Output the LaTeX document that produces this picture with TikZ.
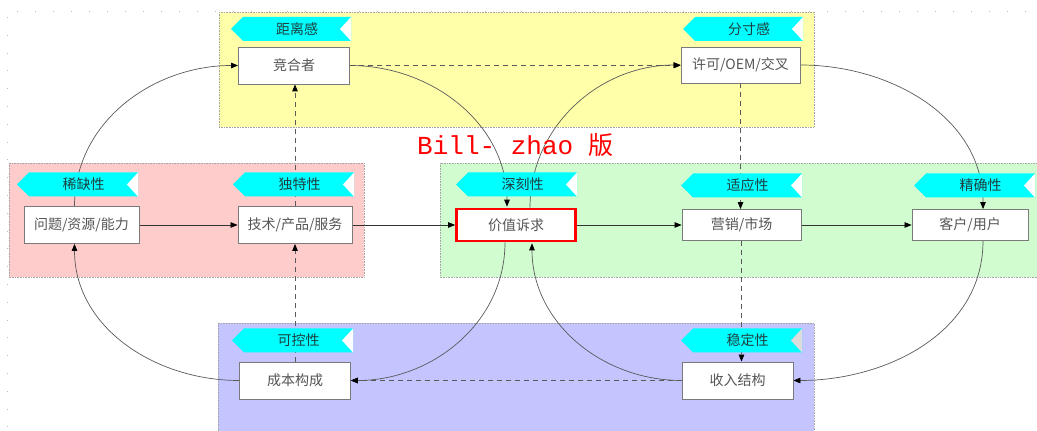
\documentclass[tikz,border=0pt]{standalone}
\usepackage{fontspec}
\setmainfont{Noto Sans CJK SC}
\newfontfamily\redmono{Liberation Mono}
\newfontfamily\cjkfont{Noto Sans CJK SC}
\usetikzlibrary{arrows.meta}
\definecolor{yelbg}{HTML}{FFFFAA}
\definecolor{pinkbg}{HTML}{FFCCCC}
\definecolor{greenbg}{HTML}{D0FCD0}
\definecolor{bluebg}{HTML}{C4C4FF}
\definecolor{tagcyan}{HTML}{00FFFF}
\definecolor{boxgray}{HTML}{7A7A7A}
\definecolor{txtgray}{HTML}{555555}
\definecolor{tagtxt}{HTML}{1F3F3F}
\definecolor{linegray}{HTML}{5A5A5A}
\definecolor{notchgray}{HTML}{DCDCDC}
\newcommand\mytag[6][white]{%
  \fill[tagcyan] (#3,#5) -- (#3+12,#5+12) -- (#4,#5+12) -- (#4,#5-12) -- (#3+12,#5-12) -- cycle;
  \fill[#1] (#4,#5+12) -- (#4-11,#5) -- (#4,#5-12) -- cycle;
  \node[tagtext] (#2) at ({(#3+12+#4)/2},#5) {#6};
}
\begin{document}
\begin{tikzpicture}[x=1pt,y=1pt,
  box/.style={draw=boxgray, fill=white, line width=0.8pt, text=txtgray,
    font=\fontsize{14}{15}\selectfont, minimum height=37pt, inner sep=0pt},
  tagtext/.style={text=tagtxt, font=\fontsize{14}{15}\selectfont, inner sep=0pt},
  region/.style={draw=gray!70, densely dotted, line width=0.6pt},
  tip/.style={-{Triangle[length=7pt,width=5.5pt,color=black]}},
  arr/.style={tip, draw=black!80, line width=0.7pt},
  curve/.style={tip, draw=linegray, line width=0.7pt},
  dasharr/.style={tip, draw=linegray, line width=0.8pt, dash pattern=on 5pt off 4pt}]
\useasboundingbox (0,0) rectangle (1037,431);
\fill[white] (0,0) rectangle (1037,431);
% ruler marks
\draw[gray!55, line width=0.6pt, dash pattern=on 1pt off 17pt] (17,420) -- (1037,420);
\draw[gray!55, line width=0.6pt, dash pattern=on 1pt off 16.8pt] (7,414) -- (7,0);
% regions
\path[region, fill=yelbg] (219,419) rectangle (814,304);
\path[region, fill=pinkbg] (9,268) rectangle (364,154);
\path[region, fill=greenbg] (440,268) rectangle (1045,154);
\path[region, fill=bluebg] (218,108) rectangle (814,-5);
% boxes
\node[box, minimum width=111pt] (comp) at (294,365.5) {竞合者};
\node[box, minimum width=119pt, minimum height=36pt] (lic) at (740.5,366) {许可/OEM/交叉};
\node[box, minimum width=115pt] (prob) at (81.5,206) {问题/资源/能力};
\node[box, minimum width=114pt] (tech) at (295,206) {技术/产品/服务};
\node[box, draw=red, line width=2.6pt, minimum width=119pt, minimum height=32pt] (value) at (516,206) {价值诉求};
\node[box, minimum width=119pt, minimum height=31pt] (market) at (741.5,206) {营销/市场};
\node[box, minimum width=116pt, minimum height=31pt] (client) at (970,206) {客户/用户};
\node[box, minimum width=111pt] (cost) at (295,50.5) {成本构成};
\node[box, minimum width=111pt] (inc) at (737.5,50.5) {收入结构};
% straight connectors
\draw[arr] (prob) -- (tech);
\draw[arr] (tech) -- (value);
\draw[arr] (value) -- (market);
\draw[arr] (market) -- (client);
% dashed connectors
\draw[dasharr] (comp.east) -- (comp.east -| lic.west);
\draw[dasharr] (cost.north) -- (cost.north |- tech.south);
\draw[dasharr] (tech.north) -- (tech.north |- comp.south);
\draw[dasharr] (lic.south) -- (lic.south |- market.north);
\draw[dasharr] (market.south) -- (market.south |- inc.north);
\draw[dasharr] (inc.west) -- (inc.west -| cost.east);
% curved connectors
\draw[curve] (comp.east) to[out=0,in=90] ([xshift=-9pt,yshift=1pt]value.north);
\draw[curve] ([xshift=14pt]value.north) to[out=90,in=180] (lic.west);
\draw[curve] (lic.east) to[out=0,in=90] ([xshift=13pt]client.north);
\draw[curve] ([xshift=13pt]client.south) to[out=-90,in=0] (inc.east);
\draw[curve] (inc.west) to[out=180,in=-90] ([xshift=16pt,yshift=-1pt]value.south);
\draw[curve] ([xshift=-11pt]value.south) to[out=-90,in=0] (cost.east);
\draw[curve] (cost.west) to[out=180,in=-90] ([xshift=-7pt]prob.south);
\draw[curve] ([xshift=-7pt]prob.north) to[out=90,in=180] (comp.west);
% redraw boxes on top of line ends
\node[box, minimum width=111pt] at (comp) {竞合者};
\node[box, minimum width=119pt, minimum height=36pt] at (lic) {许可/OEM/交叉};
\node[box, minimum width=115pt] at (prob) {问题/资源/能力};
\node[box, minimum width=114pt] at (tech) {技术/产品/服务};
\node[box, draw=red, line width=2.6pt, minimum width=119pt, minimum height=32pt] at (value) {价值诉求};
\node[box, minimum width=119pt, minimum height=31pt] at (market) {营销/市场};
\node[box, minimum width=116pt, minimum height=31pt] at (client) {客户/用户};
\node[box, minimum width=111pt] at (cost) {成本构成};
\node[box, minimum width=111pt] at (inc) {收入结构};
% tags
\mytag{t1}{231}{351}{402}{距离感}
\mytag{t2}{683}{803}{402}{分寸感}
\mytag{t3}{17}{138}{246.5}{稀缺性}
\mytag{t4}{233}{354}{246.5}{独特性}
\mytag{t5}{456}{577}{246.5}{深刻性}
\mytag{t6}{681}{802}{245.5}{适应性}
\mytag{t7}{914}{1035}{245.5}{精确性}
\mytag{t8}{232}{353}{90.5}{可控性}
\mytag[notchgray]{t9}{681}{802}{90.5}{稳定性}
% watermark
\node[anchor=base west, inner sep=0pt, text=red, font=\fontsize{26}{30}\selectfont] (bill) at (417,276) {\redmono Bill- zhao \cjkfont\fontsize{25}{30}\selectfont 版};
\end{tikzpicture}
\end{document}
